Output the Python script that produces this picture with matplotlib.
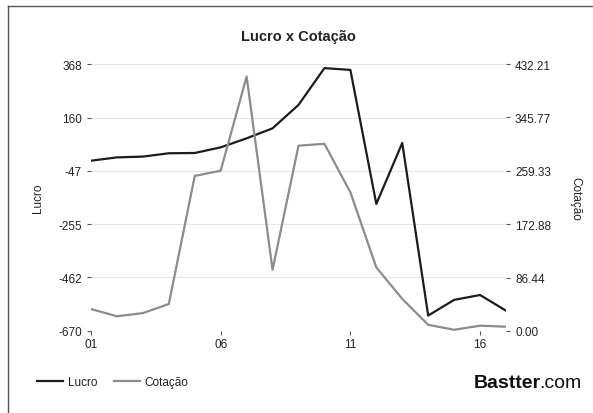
import numpy as np
import matplotlib.pyplot as plt
from matplotlib.lines import Line2D

plt.rcParams['font.family'] = ['Liberation Sans', 'DejaVu Sans']

# dados
periodos = ["01", "02", "03", "04", "05", "06", "07", "08", "09",
            "10", "11", "12", "13", "14", "15", "16", "17"]
lucro = [-8, 5, 8, 21, 22, 44, 79, 118, 209, 352, 345, -176, 61,
         -610, -549, -530, -591]
cotacao = [35.6, 23.8, 29.0, 43.7, 251.0, 259.5, 412.0, 99.0, 300.0,
           303.0, 224.5, 103.0, 52.0, 10.0, 2.0, 8.6, 7.0]

lucro_ticks = [-670, -462, -255, -47, 160, 368]
cot_ticks = [0.00, 86.44, 172.88, 259.33, 345.77, 432.21]
x_ticks = ["01", "06", "11", "16"]

COR_LUCRO = "#1c1c1c"
COR_COT = "#8c8c8c"
COR_TXT = "#222222"

fig = plt.figure(figsize=(5.93, 4.14), dpi=100)
ax = fig.add_axes([91 / 593, 1 - 332 / 414, (506 - 91) / 593, (332 - 65) / 414])
ax2 = ax.twinx()

x = np.arange(len(periodos))
ax.plot(x, lucro, color=COR_LUCRO, lw=1.6, zorder=3)
ax2.plot(x, cotacao, color=COR_COT, lw=1.6, zorder=3)

ax.set_xlim(0, len(periodos) - 1)
ax.set_ylim(lucro_ticks[0], lucro_ticks[-1])
ax2.set_ylim(cot_ticks[0], cot_ticks[-1])

ax.set_yticks(lucro_ticks)
ax.set_yticklabels([str(v) for v in lucro_ticks])
ax2.set_yticks(cot_ticks)
ax2.set_yticklabels([f"{v:.2f}" for v in cot_ticks])
ax.set_xticks([periodos.index(p) for p in x_ticks])
ax.set_xticklabels(x_ticks)

ax.grid(axis="y", color="#e6e6e6", lw=0.8)
for a in (ax, ax2):
    for s in a.spines.values():
        s.set_visible(False)
    a.tick_params(colors="#555555", labelcolor=COR_TXT, labelsize=8.5, length=3, width=0.8)
ax.tick_params(axis="x", pad=2)

ax.set_ylabel("Lucro", fontsize=8.5, color=COR_TXT, labelpad=10)
ax2.set_ylabel("Cotação", fontsize=8.5, color=COR_TXT, rotation=270, labelpad=22)
ax.set_title("Lucro x Cotação", fontsize=10.5, fontweight="bold", color=COR_TXT, pad=17)

handles = [Line2D([], [], color=COR_LUCRO, lw=1.6), Line2D([], [], color=COR_COT, lw=1.6)]
fig.legend(handles, ["Lucro", "Cotação"], loc="center left", bbox_to_anchor=(0.045, 1 - 383 / 414),
           ncol=2, frameon=False, fontsize=8.5, handlelength=2.2, handletextpad=0.4,
           columnspacing=1.4, labelcolor=COR_TXT)

# logo
t1 = fig.text(474 / 593, 1 - 384 / 414, "Bastter", fontsize=14, fontweight="bold",
              color="#111111", va="center", ha="left")
ax.annotate(".com", xy=(1, 0.5), xycoords=t1, xytext=(-1, 0), textcoords="offset points",
            fontsize=14, color="#111111", va="center", ha="left", annotation_clip=False)

# moldura
fig.add_artist(Line2D([8 / 593, 1], [1 - 7 / 414] * 2, color="#555555", lw=1))
fig.add_artist(Line2D([8 / 593] * 2, [0, 1 - 7 / 414], color="#555555", lw=1))

fig.savefig("out.png", dpi=100)
